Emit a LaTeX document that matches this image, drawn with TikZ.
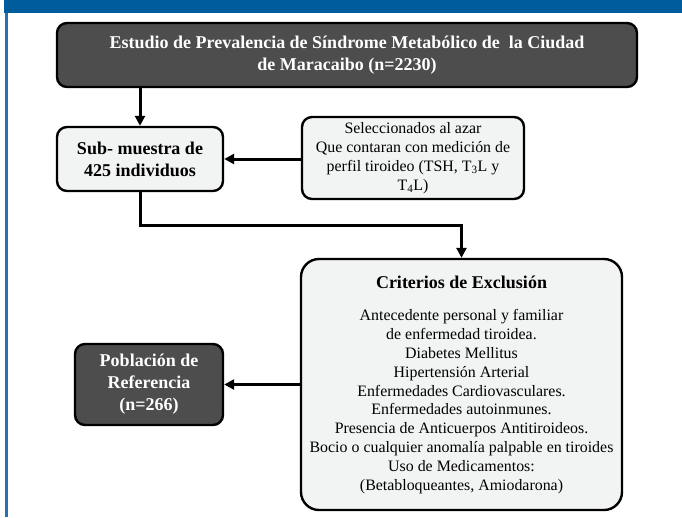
\documentclass[tikz,border=0pt]{standalone}
\usepackage{fontspec}
\setmainfont{Liberation Serif}
\usetikzlibrary{arrows.meta}

\definecolor{oscuro}{RGB}{77,77,77}
\definecolor{claro}{RGB}{242,243,243}
\definecolor{barra}{RGB}{0,92,155}
\definecolor{borde}{RGB}{40,112,180}

\tikzset{
  caja/.style={draw=black, line width=2.4pt, rounded corners=10pt, inner sep=0pt, align=center},
  cajaoscura/.style={caja, fill=oscuro, text=white, font=\fontsize{18}{22}\selectfont\bfseries},
  cajaclara/.style={caja, fill=claro, text=black, font=\fontsize{18}{22}\selectfont\bfseries},
  cajatexto/.style={caja, fill=claro, text=black, font=\fontsize{15.9}{18.8}\selectfont},
  flecha/.style={line width=3pt, -{Triangle[length=10pt,width=10pt]}}
}

\begin{document}
\begin{tikzpicture}[x=1pt,y=-1pt]
\useasboundingbox (0,0) rectangle (682,517);

% Draw the frame
\fill[barra] (4,0) rectangle (682,13);
\fill[borde] (4.5,13) rectangle (7.5,517);

% Draw the nodes
\node[cajaoscura, minimum width=580pt, minimum height=64pt] (estudio) at (347,55)
  {Estudio de Prevalencia de Síndrome Metabólico de\ \ la Ciudad\\de Maracaibo (n=2230)};
\node[cajaclara, minimum width=166pt, minimum height=64pt] (muestra) at (140,159)
  {Sub- muestra de\\425 individuos};
\node[cajatexto, minimum width=222pt, minimum height=82pt] (azar) at (413,158)
  {Seleccionados al azar\\Que contaran con medición de\\perfil tiroideo (TSH, T\textsubscript{3}L y\\T\textsubscript{4}L)};
\node[cajatexto, rounded corners=18pt, minimum width=321pt, minimum height=251pt] (exclusion) at (461.5,384.5)
  {{\fontsize{18}{22}\selectfont\bfseries Criterios de Exclusión}\\[14pt]
   Antecedente personal y familiar\\de enfermedad tiroidea.\\Diabetes Mellitus\\Hipertensión Arterial\\
   Enfermedades Cardiovasculares.\\Enfermedades autoinmunes.\\Presencia de Anticuerpos Antitiroideos.\\
   Bocio o cualquier anomalía palpable en tiroides\\Uso de Medicamentos:\\(Betabloqueantes, Amiodarona)};
\node[cajaoscura, minimum width=148pt, minimum height=81pt] (poblacion) at (149,384.5)
  {Población de\\Referencia\\(n=266)};

% Draw the edges
\draw[flecha] (estudio.south -| muestra.north) -- (muestra.north);
\draw[flecha] (azar.west |- muestra.east) -- (muestra.east);
\draw[flecha] (muestra.south) -- ++(0,33) -| (exclusion.north);
\draw[flecha] (exclusion.west) -- (poblacion.east);

\end{tikzpicture}
\end{document}
